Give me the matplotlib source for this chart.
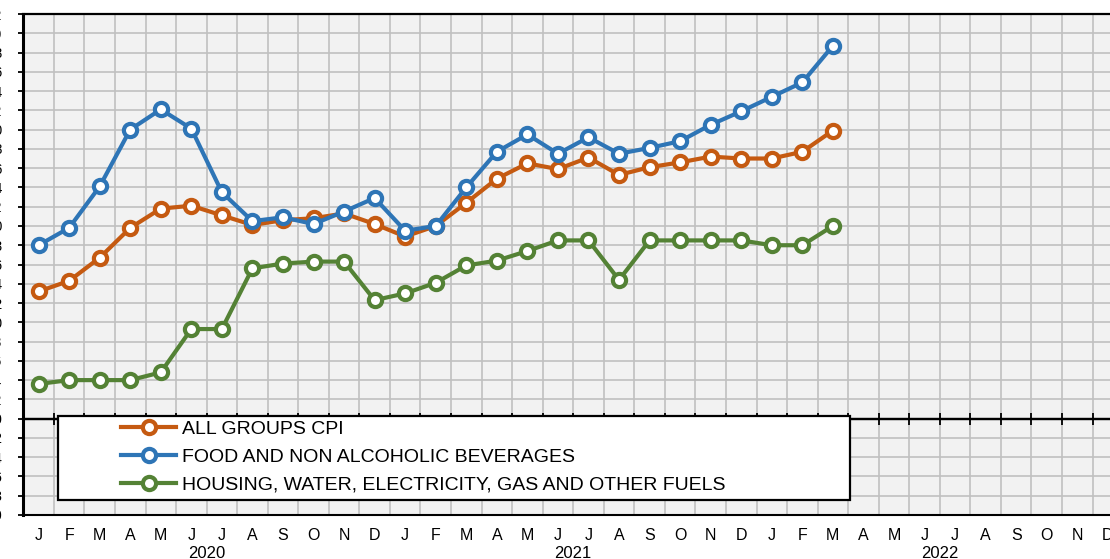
import numpy as np
import matplotlib
matplotlib.use("Agg")
import matplotlib.pyplot as plt
from matplotlib.patches import Rectangle
import matplotlib.transforms as mtransforms

plt.rcParams['font.family'] = ['Liberation Sans', 'DejaVu Sans']

months = ["J", "F", "M", "A", "M", "J", "J", "A", "S", "O", "N", "D"]
years = ["2020", "2021", "2022"]

series_names = ["ALL GROUPS CPI",
                "FOOD AND NON ALCOHOLIC BEVERAGES",
                "HOUSING, WATER, ELECTRICITY, GAS AND OTHER FUELS"]

all_groups = [1.32, 1.43, 1.67, 1.98, 2.18, 2.21, 2.11, 2.01, 2.06, 2.08, 2.13, 2.02,
              1.89, 2.00, 2.24, 2.49, 2.65, 2.59, 2.71, 2.53, 2.61, 2.66, 2.72, 2.70,
              2.70, 2.77, 2.99]
food = [1.80, 1.98, 2.41, 3.00, 3.21, 3.01, 2.35, 2.05, 2.09, 2.02, 2.15, 2.29,
        1.95, 2.00, 2.40, 2.77, 2.95, 2.75, 2.92, 2.75, 2.81, 2.88, 3.05, 3.19,
        3.34, 3.49, 3.87]
housing = [0.36, 0.40, 0.40, 0.40, 0.48, 0.93, 0.93, 1.56, 1.61, 1.63, 1.63, 1.23,
           1.30, 1.41, 1.59, 1.64, 1.74, 1.85, 1.85, 1.44, 1.85, 1.85, 1.85, 1.85,
           1.80, 1.80, 2.00]

colors = ["#C55A11", "#2E75B6", "#548235"]

y_min, y_max, y_step = -1.0, 4.2, 0.2

W, H = 1110, 559
fig = plt.figure(figsize=(W / 100, H / 100), dpi=100)
left_px, right_px, top_px, bottom_px = 23.3, 1123.1, 14, 515
ax = fig.add_axes([left_px / W, 1 - bottom_px / H,
                   (right_px - left_px) / W, (bottom_px - top_px) / H])
ax.set_facecolor("#F2F2F2")

n_cat = len(years) * len(months)
ax.set_xlim(-0.5, n_cat - 0.5)
ax.set_ylim(y_min, y_max)

# ticks / grid
yt = np.round(np.arange(y_min, y_max + 1e-9, y_step), 1)
ax.set_yticks(yt)
ax.set_yticklabels([f"{v:.1f}" for v in yt])
ax.tick_params(axis="y", direction="out", length=3.8, width=1.3, pad=11.4,
               labelsize=10, colors="black")
ax.set_xticks(np.arange(n_cat))
ax.set_xticklabels(months * len(years))
ax.tick_params(axis="x", which="major", length=0, pad=9, labelsize=11.5)
ax.set_xticks(np.arange(n_cat + 1) - 0.5, minor=True)
ax.tick_params(axis="x", which="minor", length=0)
ax.grid(True, which="minor", axis="x", color="#C0C0C0", lw=1.2)
ax.grid(True, which="major", axis="y", color="#C0C0C0", lw=1.2)
ax.set_axisbelow(True)

ax.spines["right"].set_visible(False)
ax.spines["left"].set_linewidth(2.2)
ax.spines["top"].set_linewidth(1.6)
ax.spines["bottom"].set_linewidth(1.5)

# zero line with cross ticks
frac0 = (0 - y_min) / (y_max - y_min)
sec = ax.secondary_xaxis(frac0)
sec.set_xticks(np.arange(n_cat + 1) - 0.5)
sec.tick_params(direction="inout", length=9, width=1.3, labelbottom=False,
                labeltop=False, colors="black")
for sp in sec.spines.values():
    sp.set_linewidth(1.6)
    sp.set_color("black")
sec.set_zorder(2)
ax.axhline(0, color="black", lw=1.6, zorder=1.5)

# year labels
trans = mtransforms.blended_transform_factory(ax.transData, ax.transAxes)
for i, yr in enumerate(years):
    ax.text(i * len(months) + (len(months) - 1) / 2, -(558 - bottom_px) / (bottom_px - top_px),
            yr, transform=trans, ha="center", va="baseline", fontsize=12)

# series
x = np.arange(len(all_groups))
handles = []
for vals, c, name in zip([all_groups, food, housing], colors, series_names):
    ln, = ax.plot(x, vals, color=c, lw=3, marker="o", ms=9.5, mfc="white",
                  mec=c, mew=3, label=name, zorder=3, clip_on=False)
    handles.append(ln)

# legend box
box = Rectangle((58 / W, 1 - 500 / H), (850 - 58) / W, (500 - 415.5) / H,
                transform=fig.transFigure, facecolor="white", edgecolor="black",
                lw=1.6, zorder=4.5, clip_on=False)
ax.add_patch(box)
leg = ax.legend(handles=handles, loc="upper left",
                bbox_to_anchor=(121 / W, 1 - 420.5 / H), bbox_transform=fig.transFigure,
                frameon=False, fontsize=14, handlelength=2.85, handletextpad=0.28,
                labelspacing=0.53, borderpad=0, borderaxespad=0)
leg.set_zorder(5)

fig.savefig("out.png", dpi=100)
